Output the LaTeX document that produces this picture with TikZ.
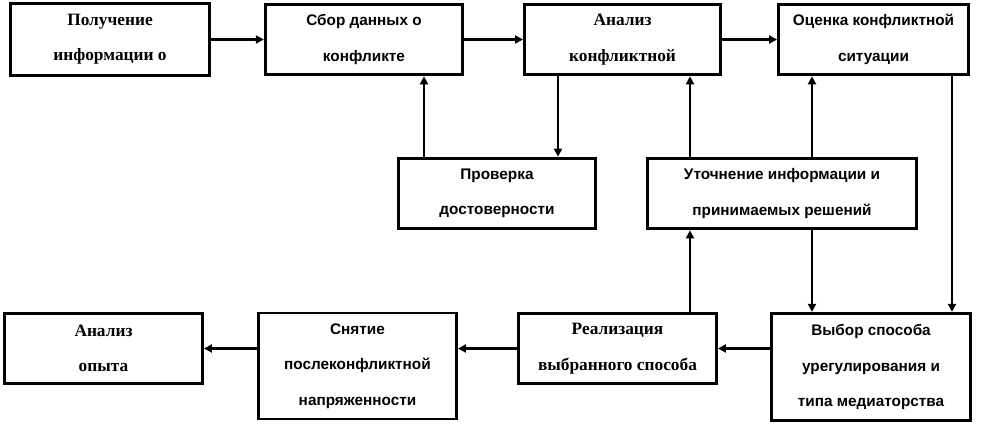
\documentclass[tikz,border=0pt]{standalone}
\usepackage{fontspec}
\setmainfont{Liberation Sans}
\newfontfamily\serbold{Liberation Serif}
\usetikzlibrary{arrows.meta}

\begin{document}
\begin{tikzpicture}
	[x=0.75pt, y=-0.75pt,
	every node/.style={draw,line width=2.2pt,align=center,inner sep=0pt,fill=white,
		font=\fontsize{11.5}{26.5}\selectfont\bfseries},
	ser/.style={font=\fontsize{13}{26.5}\selectfont\serbold\bfseries},
	pil/.style={line width=2.2pt,-{Triangle[length=6pt,width=6pt]}}]
	\fill[white] (0,0) rectangle (981,425);
	\useasboundingbox (0,0) rectangle (981,425);
	\node (poluch) [ser,minimum width=149pt,minimum height=54pt] at (110,39.5) {Получение\\информации о};
	\node (sbor) [minimum width=148pt,minimum height=53pt] at (364,39.5) {Сбор данных о\\конфликте};
	\node (analiz) [ser,minimum width=147pt,minimum height=53pt] at (622.5,39.5) {Анализ\\конфликтной};
	\node (ocenka) [minimum width=142.5pt,minimum height=53pt] at (873.5,39.5) {Оценка конфликтной\\ситуации};
	\node (prov) [minimum width=148pt,minimum height=53pt] at (497,193.5) {Проверка\\достоверности};
	\node (utoch) [minimum width=202pt,minimum height=53pt] at (782,193.5) {Уточнение информации и\\принимаемых решений};
	\node (opyt) [ser,minimum width=148.5pt,minimum height=53pt] at (103.5,348.5) {Анализ\\опыта};
	\node (snyat) [minimum width=148.5pt,minimum height=79.5pt] at (357.5,366) {Снятие\\послеконфликтной\\напряженности};
	\node (real) [ser,minimum width=148.5pt,minimum height=53pt] at (617.5,348.5) {Реализация\\выбранного способа};
	\node (vybor) [minimum width=149pt,minimum height=80.5pt] at (871,367) {Выбор способа\\урегулирования и\\типа медиаторства};
	\coordinate (x1) at (424,0);
	\coordinate (x2) at (558,0);
	\coordinate (x3) at (690,0);
	\coordinate (x4) at (812,0);
	\coordinate (x5) at (952,0);
	\draw [pil] (poluch.east) -- (sbor.west);
	\draw [pil] (sbor.east) -- (analiz.west);
	\draw [pil] (analiz.east) -- (ocenka.west);
	\draw [pil] (prov.north -| x1) -- (sbor.south -| x1);
	\draw [pil] (analiz.south -| x2) -- (prov.north -| x2);
	\draw [pil] (utoch.north -| x3) -- (analiz.south -| x3);
	\draw [pil] (utoch.north -| x4) -- (ocenka.south -| x4);
	\draw [pil] (ocenka.south -| x5) -- (vybor.north -| x5);
	\draw [pil] (utoch.south -| x4) -- (vybor.north -| x4);
	\draw [pil] (real.north -| x3) -- (utoch.south -| x3);
	\draw [pil] (vybor.west |- real) -- (real.east);
	\draw [pil] (real.west) -- (snyat.east |- real);
	\draw [pil] (snyat.west |- real) -- (opyt.east);
\end{tikzpicture}
\end{document}
